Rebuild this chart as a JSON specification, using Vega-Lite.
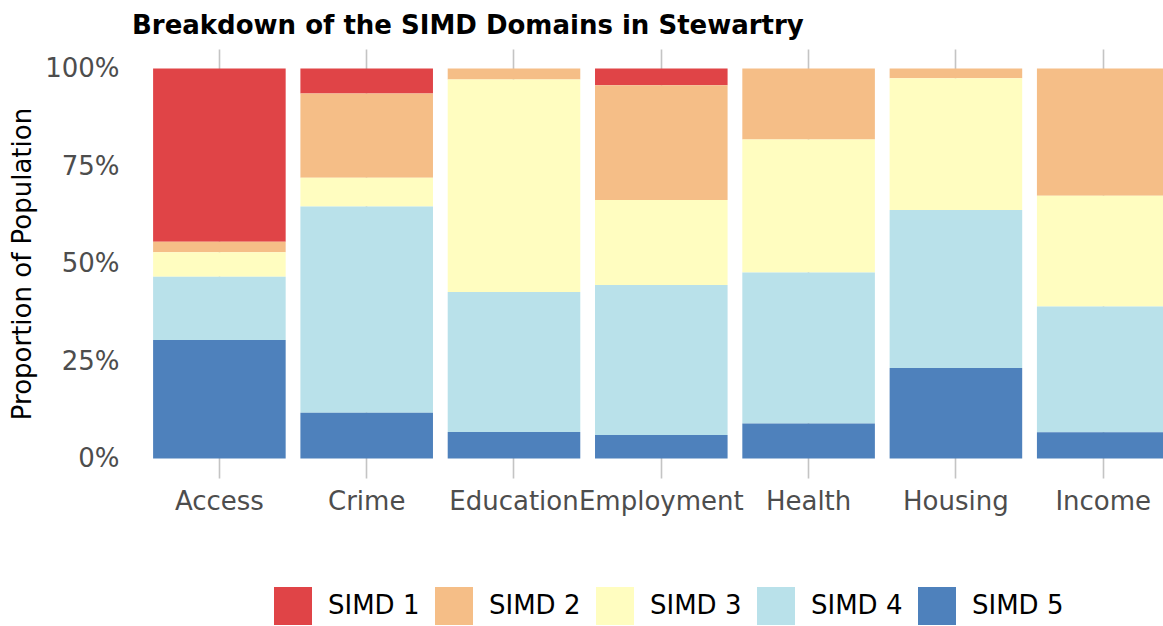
{
  "$schema": "https://vega.github.io/schema/vega-lite/v6.json",
  "autosize": "none",
  "padding": {"left": 131, "top": 49, "right": 0, "bottom": 148},
  "width": 1032,
  "height": 429,
  "title": {
    "text": "Breakdown of the SIMD Domains in Stewartry",
    "anchor": "start",
    "frame": "group",
    "orient": "top",
    "baseline": "alphabetic",
    "offset": 18,
    "dx": 1,
    "dy": 29,
    "font": "DejaVu Sans",
    "fontSize": 26,
    "fontWeight": "bold",
    "color": "#000000"
  },
  "data": {
    "values": [
      {"domain": "Access", "quintile": "SIMD 1", "share": 0.444},
      {"domain": "Access", "quintile": "SIMD 2", "share": 0.027},
      {"domain": "Access", "quintile": "SIMD 3", "share": 0.063},
      {"domain": "Access", "quintile": "SIMD 4", "share": 0.162},
      {"domain": "Access", "quintile": "SIMD 5", "share": 0.304},
      {"domain": "Crime", "quintile": "SIMD 1", "share": 0.064},
      {"domain": "Crime", "quintile": "SIMD 2", "share": 0.216},
      {"domain": "Crime", "quintile": "SIMD 3", "share": 0.074},
      {"domain": "Crime", "quintile": "SIMD 4", "share": 0.529},
      {"domain": "Crime", "quintile": "SIMD 5", "share": 0.117},
      {"domain": "Education", "quintile": "SIMD 2", "share": 0.028},
      {"domain": "Education", "quintile": "SIMD 3", "share": 0.545},
      {"domain": "Education", "quintile": "SIMD 4", "share": 0.359},
      {"domain": "Education", "quintile": "SIMD 5", "share": 0.068},
      {"domain": "Employment", "quintile": "SIMD 1", "share": 0.043},
      {"domain": "Employment", "quintile": "SIMD 2", "share": 0.294},
      {"domain": "Employment", "quintile": "SIMD 3", "share": 0.218},
      {"domain": "Employment", "quintile": "SIMD 4", "share": 0.385},
      {"domain": "Employment", "quintile": "SIMD 5", "share": 0.060},
      {"domain": "Health", "quintile": "SIMD 2", "share": 0.182},
      {"domain": "Health", "quintile": "SIMD 3", "share": 0.341},
      {"domain": "Health", "quintile": "SIMD 4", "share": 0.387},
      {"domain": "Health", "quintile": "SIMD 5", "share": 0.090},
      {"domain": "Housing", "quintile": "SIMD 2", "share": 0.025},
      {"domain": "Housing", "quintile": "SIMD 3", "share": 0.338},
      {"domain": "Housing", "quintile": "SIMD 4", "share": 0.405},
      {"domain": "Housing", "quintile": "SIMD 5", "share": 0.232},
      {"domain": "Income", "quintile": "SIMD 2", "share": 0.326},
      {"domain": "Income", "quintile": "SIMD 3", "share": 0.284},
      {"domain": "Income", "quintile": "SIMD 4", "share": 0.323},
      {"domain": "Income", "quintile": "SIMD 5", "share": 0.067}
    ]
  },
  "mark": {"type": "bar"},
  "encoding": {
    "x": {
      "field": "domain",
      "type": "nominal",
      "sort": ["Access", "Crime", "Education", "Employment", "Health", "Housing", "Income"],
      "scale": {"paddingInner": 0.1, "paddingOuter": 0.15, "range": [0, 1060.6]},
      "axis": {
        "title": null,
        "labelAngle": 0,
        "labelFont": "DejaVu Sans",
        "labelFontSize": 26,
        "labelColor": "#4D4D4D",
        "labelPadding": 10.5,
        "labelOverlap": false,
        "labelBound": false,
        "labelFlush": false,
        "domain": false,
        "ticks": false,
        "tickSize": 0,
        "grid": true,
        "gridColor": "#C4C4C4",
        "gridWidth": 1.6,
        "zindex": 0
      }
    },
    "y": {
      "field": "share",
      "type": "quantitative",
      "stack": "zero",
      "scale": {"domain": [-0.05, 1.05], "nice": false, "zero": false},
      "axis": {
        "title": "Proportion of Population",
        "titleFont": "DejaVu Sans",
        "titleFontSize": 26,
        "titleFontWeight": "normal",
        "titleColor": "#000000",
        "titleAngle": -90,
        "titleX": -109,
        "titleY": 214.5,
        "titleAlign": "center",
        "titleBaseline": "middle",
        "values": [0, 0.25, 0.5, 0.75, 1],
        "format": ".0%",
        "labelFont": "DejaVu Sans",
        "labelFontSize": 26,
        "labelColor": "#4D4D4D",
        "labelPadding": 12,
        "domain": false,
        "ticks": false,
        "tickSize": 0,
        "grid": false
      }
    },
    "color": {
      "field": "quintile",
      "type": "nominal",
      "scale": {
        "domain": ["SIMD 1", "SIMD 2", "SIMD 3", "SIMD 4", "SIMD 5"],
        "range": ["#E04447", "#F5BE87", "#FFFDC0", "#B9E1EA", "#4E81BC"]
      },
      "legend": {
        "title": null,
        "orient": "none",
        "legendX": 143,
        "legendY": 538,
        "direction": "horizontal",
        "columns": 5,
        "padding": 0,
        "symbolType": "square",
        "symbolSize": 1444,
        "symbolStrokeWidth": 0,
        "symbolOpacity": 1,
        "labelFont": "DejaVu Sans",
        "labelFontSize": 26,
        "labelColor": "#000000",
        "labelOffset": 16,
        "columnPadding": 15,
        "labelLimit": 300
      }
    },
    "order": {"field": "quintile", "sort": "descending"}
  },
  "config": {
    "view": {"stroke": null},
    "font": "DejaVu Sans"
  }
}
